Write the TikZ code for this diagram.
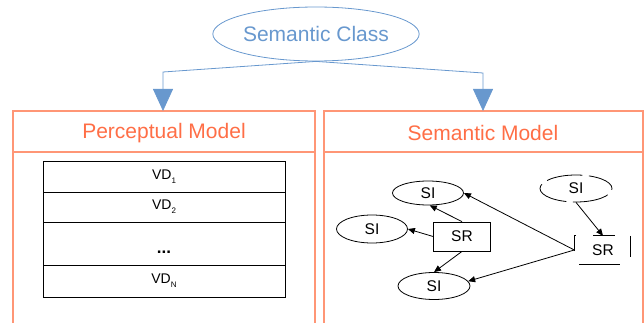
\documentclass[tikz,border=0pt]{standalone}
\usepackage{fontspec}
\setmainfont{Liberation Sans}
\usetikzlibrary{shapes.geometric,arrows.meta}
\definecolor{scblue}{RGB}{104,152,206}
\definecolor{orline}{RGB}{255,150,118}
\definecolor{ortext}{RGB}{255,110,70}
\tikzset{
  bluearrow/.style={draw=scblue,line width=0.8pt,-{Triangle[length=22pt,width=20pt,fill=scblue]}},
  panel/.style={draw=orline,line width=1.2pt},
  headtext/.style={text=ortext,font=\fontsize{21}{24}\selectfont,inner sep=0pt},
  vdrow/.style={draw=black,line width=0.9pt,rectangle,minimum width=242pt,inner sep=0pt,font=\fontsize{14}{16}\selectfont},
  siell/.style={draw=black,line width=0.8pt,ellipse,inner sep=0pt,font=\fontsize{15.5}{17}\selectfont},
  srbox/.style={rectangle,inner sep=0pt,font=\fontsize{15.5}{17}\selectfont},
  arr/.style={draw=black,line width=0.8pt,-{Triangle[length=7pt,width=6pt]}}
}
\newcommand{\vdsub}[1]{VD\raisebox{-4pt}{\fontsize{8}{8}\selectfont #1}}
\begin{document}
\begin{tikzpicture}[x=1pt,y=-1pt]
\useasboundingbox (0,0) rectangle (644,323);
% top ellipse
\node[draw=scblue,line width=0.8pt,ellipse,minimum width=198pt,minimum height=54pt,inner sep=0pt,
  text=scblue,font=\fontsize{21}{24}\selectfont] (sc) at (316,34) {Semantic Class};
% panels
\draw[panel] (13,323) -- (13,111) -- (315,111) -- (315,323);
\draw[panel] (13,152) -- (315,152);
\draw[panel] (324,323) -- (324,111) -- (643,111) -- (643,323);
\draw[panel] (324,152) -- (643,152);
\node[headtext] (pm) at (164,133) {Perceptual Model};
\node[headtext] (sm) at (483,133) {Semantic Model};
\coordinate (pmtop) at (163,111);
\coordinate (smtop) at (483,111);
\coordinate (lb) at (163,72);
\coordinate (rb) at (483,73);
\draw[bluearrow] (sc.south) -- (lb) -- (pmtop);
\draw[bluearrow] (sc.south) -- (rb) -- (smtop);
% VD table
\node[vdrow,minimum height=31pt] (vd1) at (164,176.5) {\vdsub{1}};
\node[vdrow,minimum height=30pt] (vd2) at (164,207) {\vdsub{2}};
\node[vdrow,minimum height=43pt] (vd3) at (164,243.5) {};
\node[font=\fontsize{17}{18}\selectfont\bfseries,inner sep=0pt] (dots) at (164,252) {...};
\node[vdrow,minimum height=32pt] (vdn) at (164,281) {\vdsub{N}};
% semantic model graph
\node[siell,minimum width=71pt,minimum height=24pt] (si1) at (428,193) {SI};
\node[siell,minimum width=71pt,minimum height=28pt] (si2) at (372,229) {SI};
\node[siell,minimum width=72pt,minimum height=27pt] (si3) at (434,286) {SI};
\node[srbox,draw=black,line width=0.8pt,minimum width=57pt,minimum height=29pt] (sr) at (462,236.5) {SR};
\node[siell,dash pattern=on 36pt off 6.5pt,dash phase=8pt,minimum width=72pt,minimum height=27pt] (si4) at (576,188.5) {SI};
\node[srbox,minimum width=57pt,minimum height=28pt] (sr2) at (603,250) {\raisebox{-3pt}{SR}};
\draw[line width=0.8pt] (sr2.south west) ++(0,-13) -- (sr2.north west) -- ++(2,0);
\draw[line width=0.8pt] ([xshift=19pt]sr2.north west) -- ([xshift=41pt]sr2.north west);
\draw[line width=0.8pt] ([xshift=-1pt]sr2.north east) -- ([xshift=-1pt,yshift=-21pt]sr2.north east);
\draw[line width=0.8pt] ([xshift=5pt]sr2.south west) -- ([xshift=46pt]sr2.south west);
\draw[arr] (sr.north) -- (si1.-82);
\draw[arr] (sr.west) -- (si2.east);
\draw[arr] (sr.south) -- (si3.north);
\draw[arr] (sr2.west) -- (si1.east);
\draw[arr] (sr2.west) -- (si3.8);
\draw[arr] (si4.south) -- (sr2.north);
\end{tikzpicture}
\end{document}
